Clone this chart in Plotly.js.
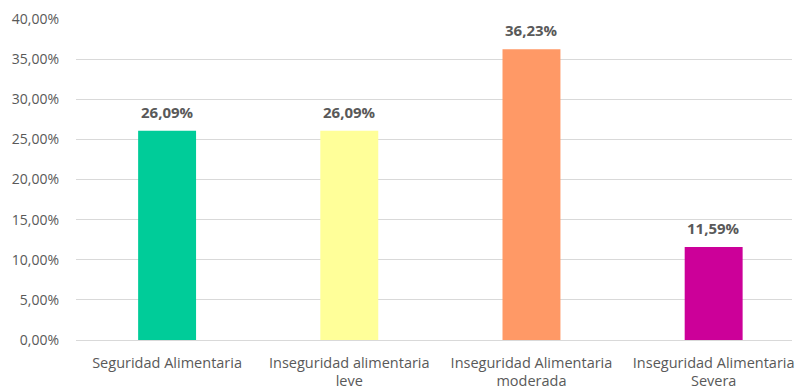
<!DOCTYPE html>
<html>
<head>
<meta charset="utf-8">
<script src="https://cdn.plot.ly/plotly-3.0.1.min.js"></script>
<style>html,body{margin:0;padding:0;background:#fff;}#chart{width:798px;height:390px;}</style>
</head>
<body>
<div id="chart"></div>
<script>
const categories = ["Seguridad Alimentaria", "Inseguridad alimentaria<br>leve", "Inseguridad Alimentaria<br>moderada", "Inseguridad Alimentaria<br>Severa"];
const values = [0.2609, 0.2609, 0.3623, 0.1159];
const labels = ["26,09%", "26,09%", "36,23%", "11,59%"];
const colors = ["#00CC99", "#FFFF99", "#FF9966", "#CC0099"];

const xs = categories.map((c, i) => i);

const trace = {
  type: "bar",
  x: xs,
  y: values,
  marker: {color: colors},
  width: 0.318,
  hoverinfo: "none"
};

const annotations = values.map((v, i) => ({
  x: xs[i], y: v, xref: "x", yref: "y",
  text: "<b>" + labels[i] + "</b>",
  showarrow: false, yanchor: "bottom", yshift: 7,
  font: {family: "Open Sans, sans-serif", size: 15, color: "#595959"}
}));

const layout = {
  width: 798, height: 390,
  margin: {l: 76, r: 6, t: 19, b: 49.5},
  paper_bgcolor: "#fff", plot_bgcolor: "#fff",
  separators: ",.",
  showlegend: false,
  font: {family: "Open Sans, sans-serif", color: "#595959", size: 14.5},
  annotations: annotations,
  xaxis: {
    range: [-0.5, 3.43],
    tickmode: "array",
    tickvals: xs,
    ticktext: categories,
    showgrid: false, zeroline: false, showline: false,
    ticks: "",
    ticklabelstandoff: 12,
    tickfont: {size: 14.5, color: "#595959"}
  },
  yaxis: {
    range: [0, 0.4],
    dtick: 0.05,
    tickformat: ".2%",
    gridcolor: "#D9D9D9",
    zeroline: true, zerolinecolor: "#D9D9D9", zerolinewidth: 1,
    showline: false, ticks: "",
    ticklabelstandoff: 16,
    tickfont: {size: 14, color: "#595959"}
  }
};

Plotly.newPlot("chart", [trace], layout, {displayModeBar: false, staticPlot: true});
</script>
</body>
</html>
